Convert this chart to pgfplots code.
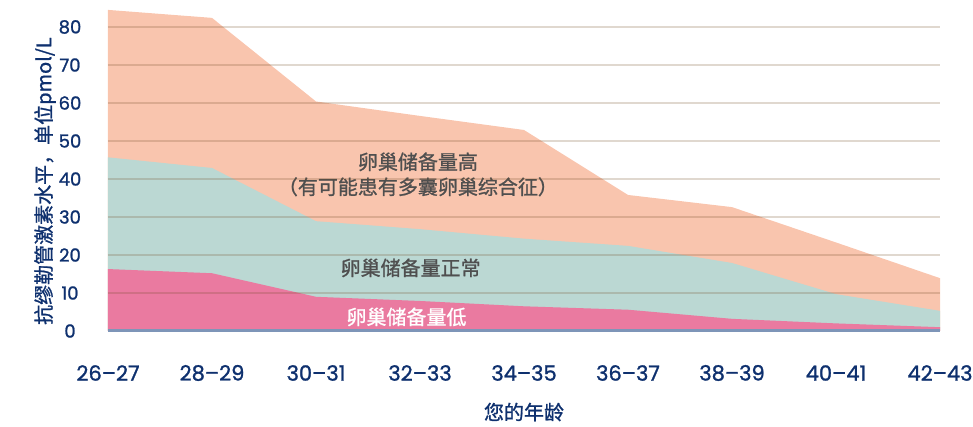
\documentclass[border=0pt]{standalone}
\usepackage{pgfplots}
\pgfplotsset{compat=1.18}
\usepackage{pgfplotstable}
\usepackage{fontspec}
\setmainfont{Poppins}[FakeBold=1.2]
\newfontfamily\cjk{Noto Sans CJK SC}[FakeBold=1.0]
\definecolor{navy}{HTML}{0E306E}
\definecolor{highc}{HTML}{F9C5AE}
\definecolor{normc}{HTML}{BBD8D3}
\definecolor{lowc}{HTML}{EA7AA0}
\definecolor{axc}{HTML}{7E95B8}
\definecolor{labc}{HTML}{4F4F4F}

% cumulative upper edges of the three bands
\pgfplotstableread{
x top mid low
0 84.5 45.7 16.3
1 82.4 42.9 15.2
2 60.4 28.9 9.0
3 56.6 26.8 7.9
4 52.9 24.3 6.5
5 35.8 22.4 5.6
6 32.6 17.9 3.2
7 23.3 9.7 2.0
8 13.9 5.3 1.0
}\amhdata

\begin{document}
\begin{tikzpicture}
\begin{axis}[
  name=ax,
  scale only axis,
  width=832pt, height=323pt,
  xmin=0, xmax=8, ymin=0, ymax=85,
  axis x line*=bottom,
  axis y line*=left,
  y axis line style={draw=none},
  x axis line style={axc, line width=3pt},
  xtick={0,...,8},
  xticklabels={26--27,28--29,30--31,32--33,34--35,36--37,38--39,40--41,42--43},
  ytick={0,10,...,80},
  tick style={draw=none},
  /pgf/number format/assume math mode=true,
  yticklabel style={anchor=center, xshift=-38pt, text=navy, font=\fontsize{18}{20}\selectfont},
  xticklabel style={anchor=center, yshift=-42pt, text=navy, font=\fontsize{21}{24}\selectfont},
  ymajorgrids,
  grid style={draw=brown!60!black, opacity=0.22, line width=1.4pt},
  axis on top,
  xlabel={\cjk 您的年龄},
  xlabel style={at={(axis description cs:0.5,-0.251)}, anchor=center, text=navy, font=\fontsize{20}{22}\selectfont},
  ylabel={\cjk 抗缪勒管激素水平，单位pmol/L},
  ylabel style={at={(axis description cs:-0.0757,0.464)}, anchor=center, text=navy, font=\fontsize{20}{22}\selectfont},
]
\addplot[draw=none, fill=highc] table[x=x, y=top] {\amhdata} \closedcycle;
\addplot[draw=none, fill=normc] table[x=x, y=mid] {\amhdata} \closedcycle;
\addplot[draw=none, fill=lowc] table[x=x, y=low] {\amhdata} \closedcycle;
\node[text=labc, align=center, font=\cjk\fontsize{20}{25}\selectfont] at (axis cs:2.98,41.2) {卵巢储备量高\\（有可能患有多囊卵巢综合征）};
\node[text=labc, font=\cjk\fontsize{20}{22}\selectfont] at (axis cs:2.91,16.6) {卵巢储备量正常};
\node[text=white, font=\cjk\fontsize{20}{22}\selectfont] at (axis cs:2.87,3.7) {卵巢储备量低};
\end{axis}
\pgfresetboundingbox
\path ([xshift=-108pt,yshift=-96pt]ax.south west) rectangle ([xshift=33pt,yshift=8pt]ax.north east);
\end{tikzpicture}
\end{document}
